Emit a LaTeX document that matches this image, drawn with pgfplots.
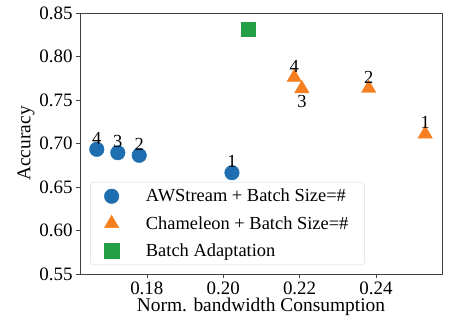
\documentclass[border=0pt]{standalone}
\usepackage{pgfplots}
\pgfplotsset{compat=1.18}
\usepackage{fontspec}
\setmainfont{Liberation Serif}
\definecolor{cA}{HTML}{1F6FB0}
\definecolor{cB}{HTML}{F57F20}
\definecolor{cC}{HTML}{23A045}
\begin{document}
\begin{tikzpicture}
\begin{axis}[
  name=ax,
  scale only axis, width=362bp, height=261bp,
  xmin=0.1625, xmax=0.2573, ymin=0.55, ymax=0.85,
  xtick={0.18,0.20,0.22,0.24}, ytick={0.55,0.60,...,0.85},
  /pgf/number format/assume math mode=true,
  xticklabel style={/pgf/number format/.cd,fixed,fixed zerofill,precision=2},
  yticklabel style={/pgf/number format/.cd,fixed,fixed zerofill,precision=2},
  tick label style={font=\fontsize{19}{22}\selectfont},
  label style={font=\fontsize{19.5}{22}\selectfont},
  xlabel={Norm. bandwidth Consumption}, ylabel={Accuracy},
  xlabel style={yshift=3bp}, ylabel style={yshift=-2bp},
  tick align=outside, tick pos=left, major tick length=4bp,
  axis line style={black!75}, tick style={black!75},
  legend style={at={(0.028,0.034)}, anchor=south west, draw=black!15, rounded corners=3bp,
    font=\fontsize{18.5}{21}\selectfont, row sep=9bp, inner xsep=14bp, inner ysep=5bp},
  legend cell align=left,
  legend image code/.code={\draw[#1] (0.4cm,0cm) -- plot coordinates {(0.4cm,0cm)};},
  nodes near coords, point meta=explicit symbolic,
]
\addplot[only marks, mark=*, mark size=7.3bp, color=cA, mark options={draw=cA, fill=cA},
  every node near coord/.style={font=\fontsize{18.5}{21}\selectfont, text=black, inner sep=0bp, anchor=south, yshift=5bp}]
  coordinates {(0.1669,0.6933)[4] (0.1724,0.6894)[3] (0.1780,0.6864)[2] (0.2023,0.6664)[1]};
\addlegendentry{\hspace{25bp}AWStream + Batch Size=\#}
\addplot[only marks, mark=triangle*, mark size=8.3bp, color=cB, mark options={draw=cB, fill=cB},
  every node near coord/.style={font=\fontsize{18.5}{21}\selectfont, text=black, inner sep=0bp, anchor=south, yshift=5bp}]
  coordinates {(0.2186,0.7760)[4] (0.2381,0.7634)[2] (0.2529,0.7110)[1]};
\addlegendentry{\hspace{25bp}Chameleon + Batch Size=\#}
\addplot[only marks, mark=square*, mark size=7.2bp, color=cC, mark options={draw=cC, fill=cC},
  nodes near coords={}]
  coordinates {(0.2066,0.8316)};
\addlegendentry{\hspace{25bp}Batch Adaptation}
\addplot[only marks, mark=triangle*, mark size=8.3bp, color=cB, mark options={draw=cB, fill=cB},
  every node near coord/.style={font=\fontsize{18.5}{21}\selectfont, text=black, inner sep=0bp, anchor=north, yshift=-6bp}, forget plot]
  coordinates {(0.2206,0.7630)[3]};
\end{axis}
\pgfresetboundingbox
\path ([xshift=-80bp,yshift=-48bp]ax.south west) rectangle ([xshift=11bp,yshift=13bp]ax.north east);
\end{tikzpicture}
\end{document}
